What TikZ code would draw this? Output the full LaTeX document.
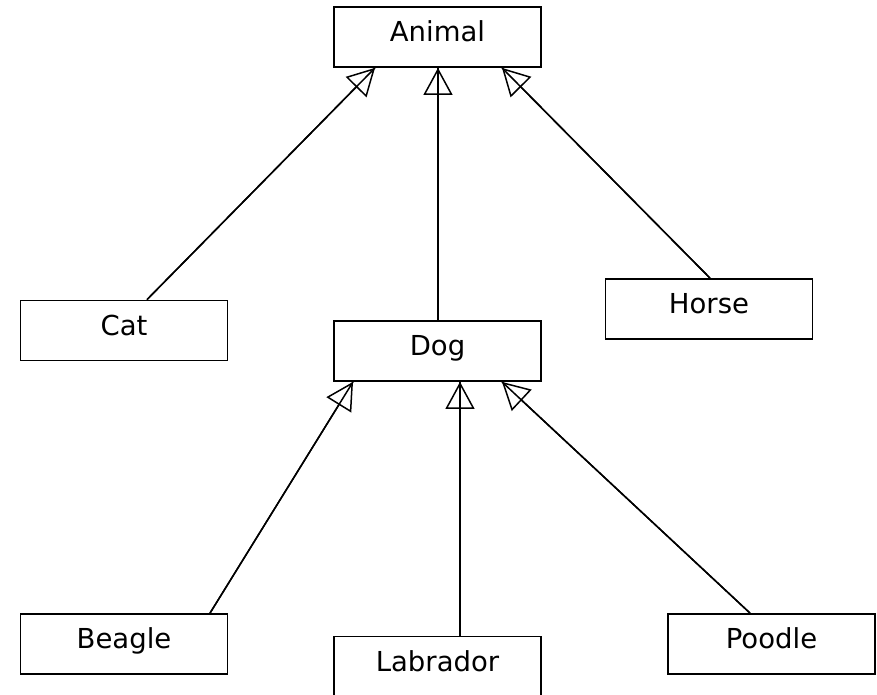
\documentclass[tikz,border=0pt]{standalone}
\usepackage{fontspec}
\setmainfont{DejaVu Sans}
\usetikzlibrary{arrows.meta}
\begin{document}
\begin{tikzpicture}[x=1pt,y=-1pt,
  cls/.style={draw, line width=1.8pt, fill=white, inner sep=0pt,
    minimum width=207pt, minimum height=60pt,
    text height=21pt, text depth=12pt,
    font=\fontsize{27.5}{32}\selectfont},
  link/.style={line width=1.5pt},
  gen/.style={line width=1.5pt, -{Triangle[open, length=27pt, width=29pt, line width=1.5pt]}}]
  \useasboundingbox (0,0) rectangle (877,694);
  \begin{scope}
    \clip (0,0) rectangle (877,694);
    % classes
    \node[cls] (animal)   at (437.5,37)  {Animal};
    \node[cls] (cat)      at (124,330.5) {Cat};
    \node[cls] (dog)      at (437.5,351) {Dog};
    \node[cls] (horse)    at (709,309)   {Horse};
    \node[cls] (beagle)   at (124,644)   {Beagle};
    \node[cls] (labrador) at (437.5,666.5) {Labrador};
    \node[cls] (poodle)   at (771.5,644) {Poodle};
    % generalisation links (line runs through to the tip)
    \foreach \child/\cs/\parent/\ps in {cat/23/animal/-62.5, dog/0.5/animal/0.5,
        horse/1/animal/64.5, beagle/86/dog/-84.5, labrador/22.5/dog/22.5,
        poodle/-21.5/dog/64.5} {
      \draw[link] ([xshift=\cs pt]\child.north) -- ([xshift=\ps pt]\parent.south);
      \draw[gen]  ([xshift=\cs pt]\child.north) -- ([xshift=\ps pt]\parent.south);
    }
  \end{scope}
\end{tikzpicture}
\end{document}
